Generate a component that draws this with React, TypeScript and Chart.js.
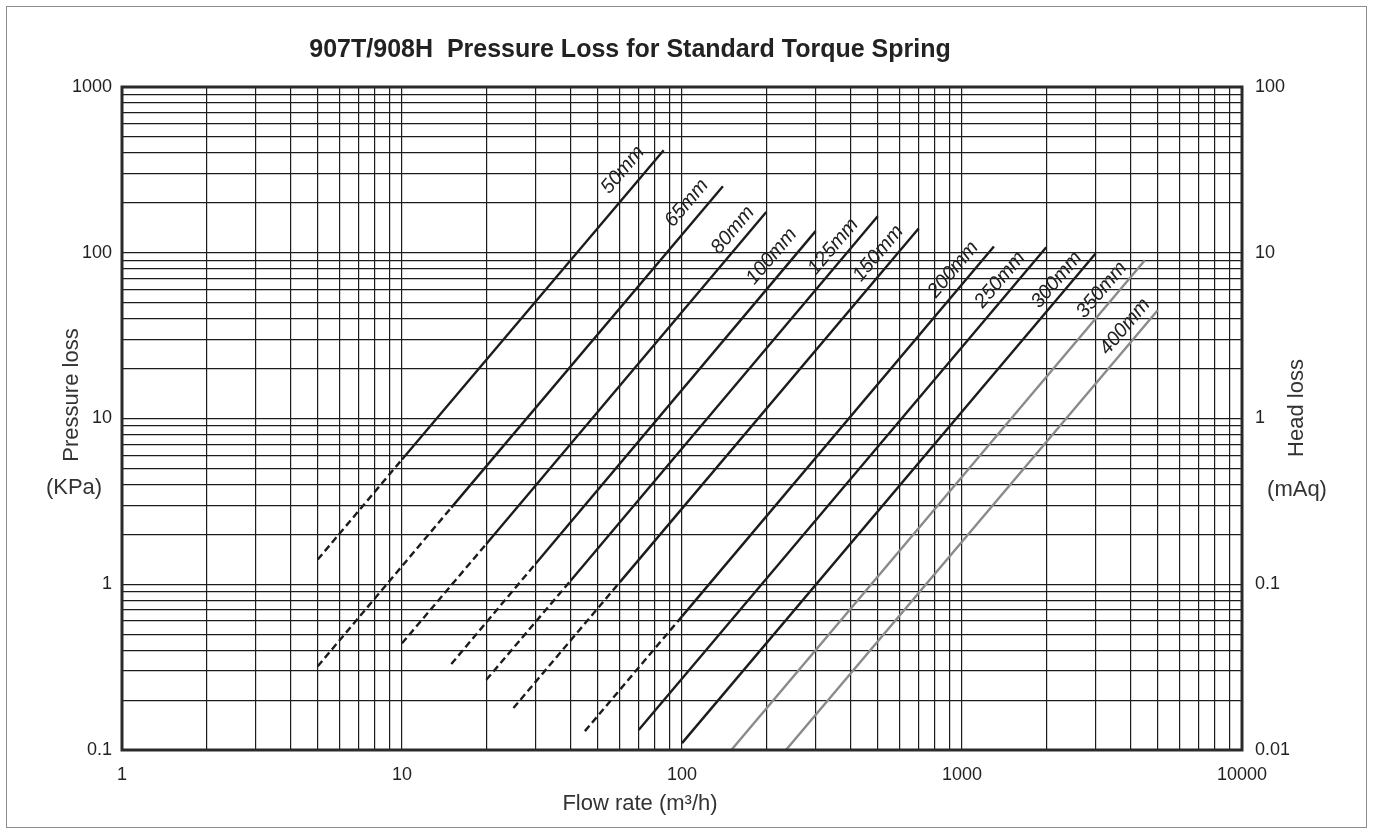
import React, { useEffect, useRef } from "react";
import { Chart, registerables } from "chart.js";

Chart.register(...registerables);

// ---- data ----
const sizeLabels = ["50mm", "65mm", "80mm", "100mm", "125mm", "150mm", "200mm", "250mm", "300mm", "350mm", "400mm"];
// first point of each curve (flow m3/h, pressure loss kPa)
const startFlow = [5, 5, 10, 15, 20, 25, 45, 70, 100, 150, 235];
const startLoss = [1.41, 0.32, 0.44, 0.33, 0.265, 0.179, 0.13, 0.132, 0.11, 0.1, 0.1];
// point where the dashed part turns solid (null = solid all the way)
const solidFromFlow = [10, 15, 20, 30, 40, 60, 100, null, null, null, null];
const solidFromLoss = [5.66, 2.9, 1.75, 1.33, 1.05, 1.03, 0.64, null, null, null, null];
// last point of each curve
const endFlow = [86, 140, 200, 300, 500, 700, 1300, 2000, 3000, 4500, 5000];
const endLoss = [415, 252, 176, 135, 166, 140, 109, 108, 99, 90, 45];
// label anchors (data coordinates)
const labelFlow = [61.5, 104, 152, 209, 347, 502, 931, 1367, 2178, 3155, 3821];
const labelLoss = [316, 199, 137, 95, 109, 99, 79, 68.5, 68.5, 59.6, 35.8];
// axis ticks
const flowTicks = [1, 10, 100, 1000, 10000];
const lossTicks = [0.1, 1, 10, 100, 1000];
const headTicks = [0.01, 0.1, 1, 10, 100];
const titleText = "907T/908H  Pressure Loss for Standard Torque Spring";

const grayCurves = ["350mm", "400mm"];
const FONT = "'Liberation Sans', Arial, Helvetica, sans-serif";
const INK = "#1c1c1c";

function logGrid(min: number, max: number): number[] {
  const out: number[] = [];
  for (let d = Math.log10(min); d < Math.log10(max); d++) {
    const base = Math.pow(10, d);
    for (let m = 1; m <= 9; m++) out.push(Number((m * base).toPrecision(3)));
  }
  out.push(max);
  return out;
}
const isDecade = (v: number) => Math.abs(Math.log10(v) - Math.round(Math.log10(v))) < 1e-9;

export default function App() {
  const ref = useRef<HTMLCanvasElement | null>(null);

  useEffect(() => {
    document.body.style.margin = "0";
    const canvas = ref.current!;
    const datasets = sizeLabels.map((name, i) => {
      const pts: { x: number; y: number }[] = [{ x: startFlow[i], y: startLoss[i] }];
      const hasDash = solidFromFlow[i] !== null;
      if (hasDash) pts.push({ x: solidFromFlow[i] as number, y: solidFromLoss[i] as number });
      pts.push({ x: endFlow[i], y: endLoss[i] });
      const gray = grayCurves.includes(name);
      return {
        label: name,
        data: pts,
        borderColor: gray ? "#8a8a8a" : INK,
        borderWidth: 2.4,
        pointRadius: 0,
        tension: 0,
        fill: false,
        segment: {
          borderDash: (ctx: any) => (hasDash && ctx.p0DataIndex === 0 ? [7, 4] : undefined),
        },
      };
    });

    const decorPlugin = {
      id: "decor",
      afterDraw(chart: any) {
        const { ctx, chartArea: a, scales } = chart;
        ctx.save();
        // outer frame
        ctx.strokeStyle = "#8c8c8c";
        ctx.lineWidth = 1;
        ctx.strokeRect(6.5, 6.5, 1360, 821);
        // plot frame
        ctx.strokeStyle = "#2a2a2a";
        ctx.lineWidth = 3;
        ctx.strokeRect(a.left, a.top, a.right - a.left, a.bottom - a.top);
        // title
        ctx.fillStyle = "#222";
        ctx.font = `bold 25px ${FONT}`;
        ctx.textAlign = "center";
        ctx.textBaseline = "alphabetic";
        ctx.fillText(titleText, 630, 57);
        // axis titles
        ctx.font = `22px ${FONT}`;
        ctx.fillStyle = "#333";
        ctx.textBaseline = "middle";
        ctx.fillText("Flow rate (m\u00b3/h)", 640, 804);
        ctx.fillText("(KPa)", 74, 488);
        ctx.fillText("(mAq)", 1297, 490);
        ctx.save();
        ctx.translate(72, 395);
        ctx.rotate(-Math.PI / 2);
        ctx.fillText("Pressure loss", 0, 0);
        ctx.restore();
        ctx.save();
        ctx.translate(1297, 408);
        ctx.rotate(-Math.PI / 2);
        ctx.fillText("Head loss", 0, 0);
        ctx.restore();
        // curve labels
        const x = scales.x, y = scales.y;
        const ang = Math.atan2(
          y.getPixelForValue(1) - y.getPixelForValue(100),
          x.getPixelForValue(10) - x.getPixelForValue(1)
        );
        ctx.font = `italic 20px ${FONT}`;
        ctx.fillStyle = "#222";
        sizeLabels.forEach((name, i) => {
          ctx.save();
          ctx.translate(x.getPixelForValue(labelFlow[i]), y.getPixelForValue(labelLoss[i]));
          ctx.rotate(-ang);
          ctx.fillText(name, 0, 0);
          ctx.restore();
        });
        ctx.restore();
      },
    };

    const tickFont = { family: FONT, size: 18 };
    const chart = new Chart(canvas, {
      type: "line",
      data: { datasets: datasets as any },
      options: {
        responsive: false,
        animation: false,
        events: [],
        layout: { padding: { top: 87, left: 0, right: 0, bottom: 0 } },
        plugins: { legend: { display: false }, title: { display: false }, tooltip: { enabled: false } },
        scales: {
          x: {
            type: "logarithmic",
            min: 1,
            max: 10000,
            afterBuildTicks: (s: any) => { s.ticks = logGrid(1, 10000).map((v) => ({ value: v })); },
            afterFit: (s: any) => { s.height = 84; },
            grid: { color: INK, lineWidth: 1.2, drawTicks: false },
            border: { display: false },
            ticks: {
              autoSkip: false,
              maxRotation: 0,
              padding: 14,
              color: "#222",
              font: tickFont,
              callback: (v: any) => (flowTicks.includes(Number(v)) ? String(v) : ""),
            },
          },
          y: {
            type: "logarithmic",
            position: "left",
            min: 0.1,
            max: 1000,
            afterBuildTicks: (s: any) => { s.ticks = logGrid(0.1, 1000).map((v) => ({ value: v })); },
            afterFit: (s: any) => { s.width = 122; },
            grid: { color: INK, lineWidth: 1.2, drawTicks: false },
            border: { display: false },
            ticks: {
              autoSkip: false,
              padding: 10,
              color: "#222",
              font: tickFont,
              callback: (v: any) => (isDecade(Number(v)) && lossTicks.includes(Number(v)) ? String(v) : ""),
            },
          },
          y2: {
            type: "logarithmic",
            position: "right",
            min: 0.01,
            max: 100,
            afterBuildTicks: (s: any) => { s.ticks = headTicks.map((v) => ({ value: v })); },
            afterFit: (s: any) => { s.width = 133; },
            grid: { display: false, drawTicks: false },
            border: { display: false },
            ticks: {
              autoSkip: false,
              padding: 13,
              color: "#222",
              font: tickFont,
              callback: (v: any) => String(v),
            },
          },
        },
      } as any,
      plugins: [decorPlugin],
    });
    return () => chart.destroy();
  }, []);

  return (
    <div style={{ position: "absolute", left: 0, top: 0, width: 1375, height: 834, background: "#fff" }}>
      <canvas ref={ref} width={1375} height={834} style={{ width: 1375, height: 834, display: "block" }} />
    </div>
  );
}
